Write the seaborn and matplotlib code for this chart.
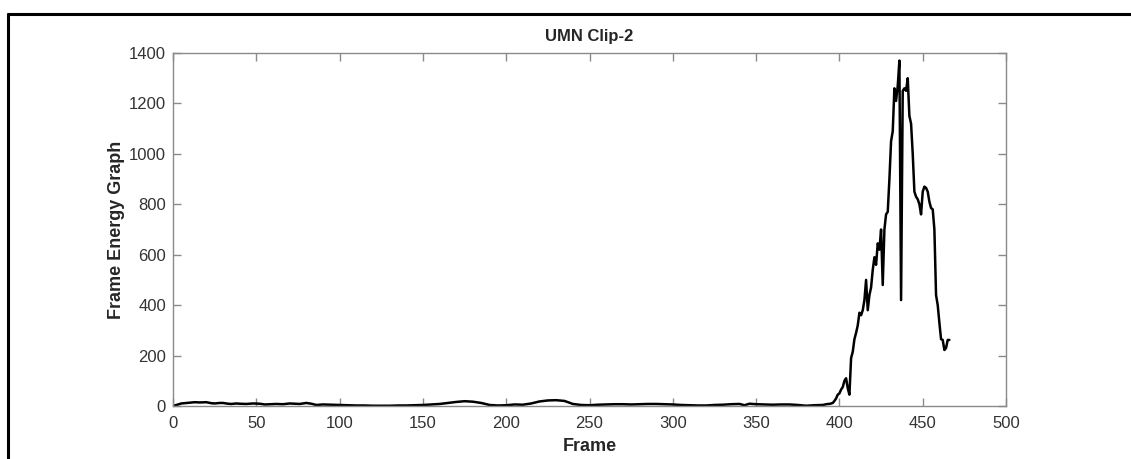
import numpy as np
import pandas as pd
import matplotlib
matplotlib.use("Agg")
import matplotlib.pyplot as plt
from matplotlib.lines import Line2D
import seaborn as sns

# Frame energy of UMN clip 2: quiet crowd, then a burst near frame 400
low_frames = [1, 3, 5, 8, 10, 13, 16, 20, 23, 25, 28, 30, 33, 35, 38, 40, 44, 48, 52, 55,
              58, 62, 66, 70, 73, 76, 80, 83, 86, 90, 95, 100, 105, 110, 115, 120, 125,
              130, 135, 140, 145, 150, 155, 160, 165, 170, 175, 180, 185, 190, 195, 200,
              205, 210, 215, 220, 225, 230, 235, 240, 245, 250, 255, 260, 265, 270, 275,
              280, 285, 290, 295, 300, 305, 310, 315, 320, 325, 330, 335, 340, 343, 346,
              350, 355, 360, 365, 370, 375, 380, 385, 390]
low_energy = [2, 6, 10, 12, 13, 15, 14, 15, 11, 10, 12, 12, 9, 8, 10, 9, 8, 10, 9, 6,
              7, 8, 7, 10, 9, 8, 12, 9, 4, 6, 5, 4, 3, 2, 2, 1, 1,
              1, 2, 2, 3, 4, 6, 8, 12, 16, 19, 17, 12, 4, 2, 3,
              6, 5, 10, 18, 22, 23, 20, 8, 4, 3, 5, 6, 7, 7, 6,
              7, 8, 8, 7, 6, 4, 3, 2, 2, 4, 5, 7, 8, 3, 9,
              7, 6, 5, 6, 6, 4, 1, 3, 4]

peak_frames = list(range(393, 467))
peak_energy = [8, 8, 10, 12, 20, 30, 45, 50, 65, 75, 100, 110, 70, 45, 190, 215,
               265, 290, 320, 370, 360, 380, 420, 500, 380, 440, 470, 540, 590, 560,
               645, 620, 700, 480, 700, 760, 770, 900, 1050, 1090, 1260, 1210, 1270,
               1370, 420, 1250, 1260, 1250, 1300, 1150, 1120, 1000, 850, 830, 820, 800,
               760, 850, 870, 865, 850, 810, 785, 780, 700, 440, 400, 330, 265, 262,
               222, 230, 262, 262][:len(peak_frames)]

frames = low_frames + peak_frames
energy = low_energy + peak_energy

x_ticks = [0, 50, 100, 150, 200, 250, 300, 350, 400, 450, 500]
y_ticks = [0, 200, 400, 600, 800, 1000, 1200, 1400]

df = pd.DataFrame({"Frame": frames, "Energy": energy})

sns.set_theme(style="white")
plt.rcParams["font.family"] = ["Liberation Sans", "DejaVu Sans"]

fig = plt.figure(figsize=(11.31, 4.59), dpi=100)
ax = fig.add_axes([0.153, 0.1155, 0.7365, 0.769])

sns.lineplot(data=df, x="Frame", y="Energy", ax=ax, color="black",
             linewidth=1.8, estimator=None, sort=False)

ax.set_xlim(0, 500)
ax.set_ylim(0, 1400)
ax.set_xticks(x_ticks)
ax.set_yticks(y_ticks)

spine_col = "#8a8a8a"
for side in ["left", "right", "top", "bottom"]:
    ax.spines[side].set_visible(True)
    ax.spines[side].set_color(spine_col)
    ax.spines[side].set_linewidth(1.0)

ax.tick_params(axis="both", which="major", direction="in", length=6, width=1.0,
               color=spine_col, labelsize=12, labelcolor="#333333",
               top=True, right=True, bottom=True, left=True,
               labeltop=False, labelright=False, pad=5)
ax.tick_params(axis="x", pad=7)

ax.set_title("UMN Clip-2", fontsize=12, fontweight="bold", pad=9)
ax.set_xlabel("Frame", fontsize=13, fontweight="bold", labelpad=5)
ax.set_ylabel("Frame Energy Graph", fontsize=13, fontweight="bold", labelpad=3)
ax.grid(False)

# Frame border around the figure (top and left edges)
fig.add_artist(Line2D([8 / 1131, 8 / 1131], [0, 1 - 14 / 459], transform=fig.transFigure,
                      color="black", linewidth=2.2))
fig.add_artist(Line2D([8 / 1131, 1.0], [1 - 14 / 459, 1 - 14 / 459], transform=fig.transFigure,
                      color="black", linewidth=2.2))

fig.savefig("out.png", dpi=100)
